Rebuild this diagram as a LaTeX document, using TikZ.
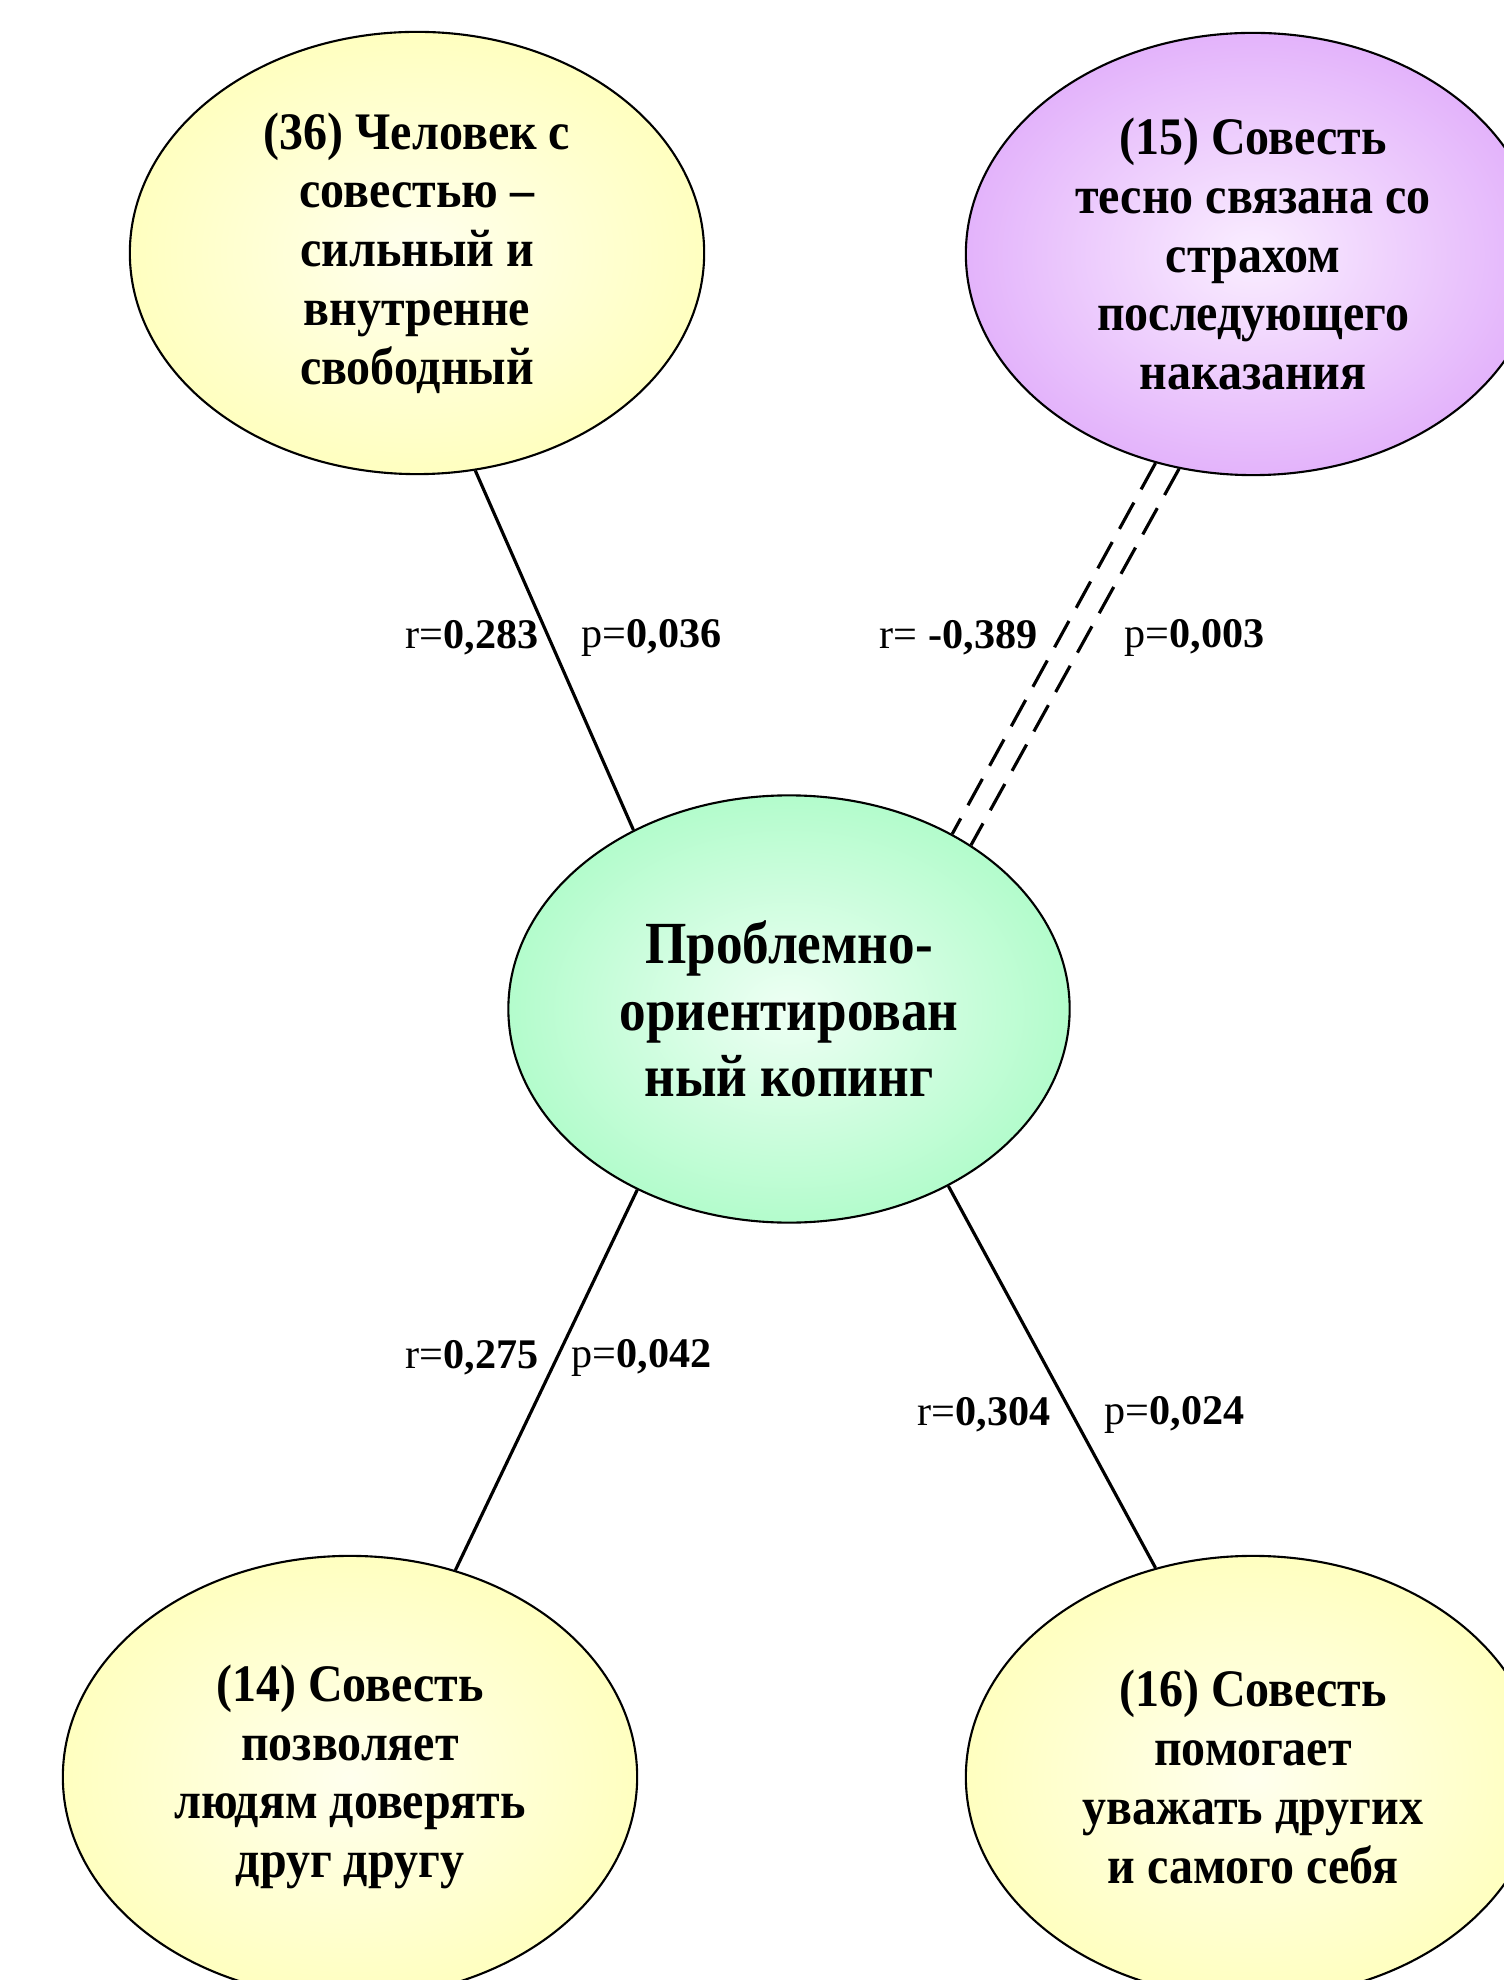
\documentclass[tikz,border=0pt]{standalone}
\usepackage{fontspec}
\setmainfont{Liberation Serif}
\newfontfamily\bubblefont[FakeStretch=0.91]{Liberation Serif}
\newfontfamily\corefont[FakeStretch=0.89]{Liberation Serif}
\usetikzlibrary{shapes.geometric}

\definecolor{cream}{RGB}{255,255,192}
\definecolor{creamlight}{RGB}{255,255,238}
\definecolor{lilac}{RGB}{227,179,251}
\definecolor{lilaclight}{RGB}{250,238,255}
\definecolor{mint}{RGB}{179,252,204}
\definecolor{mintlight}{RGB}{238,255,244}

\begin{document}
\begin{tikzpicture}[x=0.01cm,y=-0.01cm,
    bubble/.style={ellipse,draw,line width=0.6pt,inner sep=0pt,align=center,
      minimum width=5.74cm,minimum height=4.42cm,
      font=\bubblefont\bfseries\fontsize{15}{16.7}\selectfont,
      inner color=creamlight,outer color=cream},
    lbl/.style={inner sep=0pt,font=\fontsize{12}{14}\selectfont},
    link/.style={draw=black,line width=0.9pt},
    dashline/.style={draw=black,line width=0.9pt,dash pattern=on 0.3cm off 0.15cm}]
    \useasboundingbox (0,0) rectangle (1503,1980);

    \node[bubble,minimum width=5.61cm,minimum height=4.27cm,
      font=\corefont\bfseries\fontsize{17}{18.8}\selectfont,
      inner color=mintlight,outer color=mint] (cope) at (789,1009)
      {Проблемно-\\ориентирован\\ный копинг};
    \node[bubble] (q36) at (417,253)
      {(36) Человек с\\совестью –\\сильный и\\внутренне\\свободный};
    \node[bubble,inner color=lilaclight,outer color=lilac] (q15) at (1253,254)
      {(15) Совесть\\тесно связана со\\страхом\\последующего\\наказания};
    \node[bubble] (q14) at (350,1777)
      {(14) Совесть\\позволяет\\людям доверять\\друг другу};
    \node[bubble] (q16) at (1253,1777)
      {(16) Совесть\\помогает\\уважать других\\и самого себя};

    \path[-] (q36.-75) edge[link] (cope.131);
    \path[-] (q15.-115) edge[dashline] (cope.47);
    \path[-] (q15.-109) edge[dashline] (cope.42);
    \path[-] (cope.-130) edge[link] (q14.63);
    \path[-] (cope.-48) edge[link] (q16.115);

    \node[lbl,anchor=east] (r36) at (539,638) {r=\textbf{0,283}};
    \node[lbl,anchor=west] (p36) at (581,638) {p=\textbf{0,036}};
    \node[lbl,anchor=east] (r15) at (1038,638) {r= \textbf{-0,389}};
    \node[lbl,anchor=west] (p15) at (1124,638) {p=\textbf{0,003}};
    \node[lbl,anchor=east] (r14) at (539,1358) {r=\textbf{0,275}};
    \node[lbl,anchor=west] (p14) at (571,1358) {p=\textbf{0,042}};
    \node[lbl,anchor=east] (r16) at (1051,1415) {r=\textbf{0,304}};
    \node[lbl,anchor=west] (p16) at (1104,1415) {p=\textbf{0,024}};
  \end{tikzpicture}
\end{document}
